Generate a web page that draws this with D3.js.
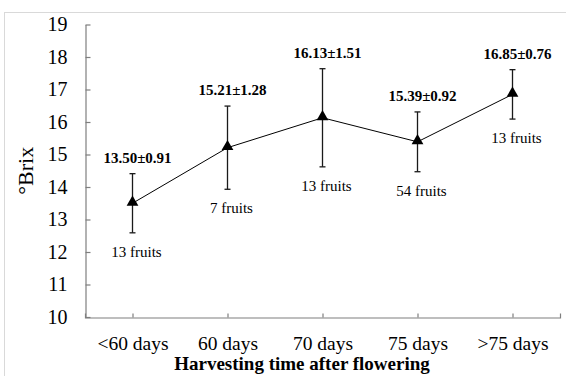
<!DOCTYPE html>
<html>
<head>
<meta charset="utf-8">
<script src="https://cdn.jsdelivr.net/npm/d3@7"></script>
<style>
  body { margin: 0; background: #fff; }
  svg { display: block; font-family: "Liberation Serif", "Times New Roman", serif; }
</style>
</head>
<body>
<div id="chart"></div>
<script>
const categories = ['<60 days', '60 days', '70 days', '75 days', '>75 days'];
const means = [13.50, 15.21, 16.13, 15.39, 16.85];
const sds = [0.91, 1.28, 1.51, 0.92, 0.76];
const fruits = [13, 7, 13, 54, 13];
const yTicks = [10, 11, 12, 13, 14, 15, 16, 17, 18, 19];

const width = 566;
const height = 376;

const svg = d3.select('#chart')
  .append('svg')
  .attr('width', width)
  .attr('height', height);

// light frame around the chart area
svg.append('rect')
  .attr('x', 4.5).attr('y', 12.5)
  .attr('width', 700).attr('height', 500)
  .attr('fill', 'none')
  .attr('stroke', '#d9d9d9');

const x = d3.scalePoint()
  .domain(categories)
  .range([85, 560])
  .padding(0.5);

const y = d3.scaleLinear()
  .domain([10, 19])
  .range([317, 24.5]);

const axisColor = '#7f7f7f';

const yAxis = svg.append('g')
  .attr('transform', 'translate(85.5,0)')
  .call(d3.axisLeft(y).tickValues(yTicks).tickSize(-5).tickSizeOuter(0).tickPadding(18));
yAxis.select('.domain').attr('stroke', axisColor).attr('stroke-width', 1.2);
yAxis.selectAll('.tick line').attr('stroke', axisColor).attr('stroke-width', 1.2);
yAxis.selectAll('.tick text')
  .attr('fill', '#000')
  .style('font-size', '20px')
  .attr('font-family', '"Liberation Serif", serif');

const xAxis = svg.append('g')
  .attr('transform', 'translate(0,317.5)')
  .call(d3.axisBottom(x).tickSize(-4).tickSizeOuter(-4).tickPadding(0));
xAxis.select('.domain').attr('stroke', axisColor).attr('stroke-width', 1.2);
xAxis.selectAll('.tick line').attr('stroke', axisColor).attr('stroke-width', 1.2);
xAxis.selectAll('.tick text')
  .attr('fill', '#000')
  .attr('y', 32)
  .attr('dy', null)
  .style('font-size', '19.5px')
  .attr('font-family', '"Liberation Serif", serif');

// axis titles
svg.append('text')
  .attr('transform', `translate(33,${(y(10) + y(19)) / 2}) rotate(-90)`)
  .attr('text-anchor', 'middle')
  .style('font-size', '22px')
  .text('°Brix');

svg.append('text')
  .attr('x', 302)
  .attr('y', 370)
  .attr('text-anchor', 'middle')
  .style('font-size', '19px')
  .style('font-weight', 'bold')
  .text('Harvesting time after flowering');

const pts = categories.map((c, i) => ({ c, m: means[i], s: sds[i], n: fruits[i] }));

// error bars
const eb = svg.append('g').selectAll('g')
  .data(pts)
  .enter()
  .append('g')
  .attr('stroke', '#1a1a1a')
  .attr('stroke-width', 1.3);
eb.append('line')
  .attr('x1', d => x(d.c)).attr('x2', d => x(d.c))
  .attr('y1', d => y(d.m - d.s)).attr('y2', d => y(d.m + d.s));
eb.append('line')
  .attr('x1', d => x(d.c) - 3).attr('x2', d => x(d.c) + 3)
  .attr('y1', d => y(d.m + d.s)).attr('y2', d => y(d.m + d.s));
eb.append('line')
  .attr('x1', d => x(d.c) - 3).attr('x2', d => x(d.c) + 3)
  .attr('y1', d => y(d.m - d.s)).attr('y2', d => y(d.m - d.s));

// connecting line
const line = d3.line().x(d => x(d.c)).y(d => y(d.m));
svg.append('path')
  .datum(pts)
  .attr('d', line)
  .attr('fill', 'none')
  .attr('stroke', '#000')
  .attr('stroke-width', 1);

// triangle markers
svg.append('g').selectAll('path')
  .data(pts)
  .enter()
  .append('path')
  .attr('d', d3.symbol().type(d3.symbolTriangle).size(60))
  .attr('transform', d => `translate(${x(d.c)},${y(d.m) - 1})`)
  .attr('fill', '#000');

// mean ± sd labels
svg.append('g').selectAll('text')
  .data(pts)
  .enter()
  .append('text')
  .attr('x', d => x(d.c) + 5)
  .attr('y', d => y(d.m + d.s) - 11)
  .attr('text-anchor', 'middle')
  .style('font-size', '15px')
  .style('font-weight', 'bold')
  .text(d => `${d.m.toFixed(2)}±${d.s.toFixed(2)}`);

// fruit count labels
svg.append('g').selectAll('text')
  .data(pts)
  .enter()
  .append('text')
  .attr('x', d => x(d.c) + 4)
  .attr('y', d => y(d.m - d.s) + 24)
  .attr('text-anchor', 'middle')
  .style('font-size', '15px')
  .text(d => `${d.n} fruits`);
</script>
</body>
</html>
